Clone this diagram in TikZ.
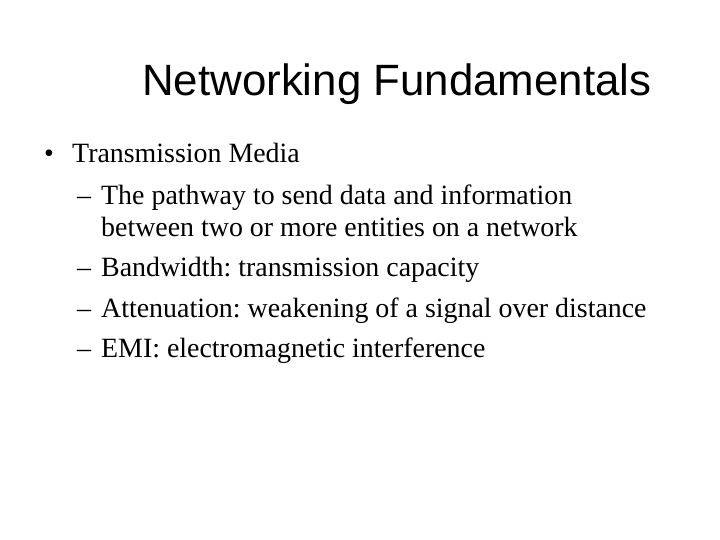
\documentclass[tikz,border=0pt]{standalone}
\usepackage{fontspec}
\setmainfont{Liberation Serif}
\newfontfamily\titlefont{Liberation Sans}
\frenchspacing

\tikzset{
  slidetitle/.style={anchor=base west, inner sep=0pt, font=\titlefont\fontsize{44}{52}\selectfont},
  levelone/.style={anchor=base west, inner sep=0pt, font=\fontsize{28}{34}\selectfont},
  leveltwo/.style={anchor=base west, inner sep=0pt, font=\fontsize{28}{34}\selectfont}
}

\begin{document}
\begin{tikzpicture}[x=1bp,y=-1bp]
% Fix the slide size
  \useasboundingbox[fill=white] (0,0) rectangle (720,540);

% Draw the title
  \node[slidetitle] (title) at (142,96) {Networking Fundamentals};

% Draw the first level bullet
  \node[levelone] (bullet) at (44,163) {\textbullet};
  \node[levelone] (media) at (72,163) {Transmission Media};

% Draw the second level items
  \node[leveltwo] (dashA) at (77,205) {--};
  \node[leveltwo] (pathway) at (101,205) {The pathway to send data and information};
  \node[leveltwo] (between) at (101,237) {between two or more entities on a network};

  \node[leveltwo] (dashB) at (77,277) {--};
  \node[leveltwo] (bandwidth) at (101,277) {Bandwidth: transmission capacity};

  \node[leveltwo] (dashC) at (77,317) {--};
  \node[leveltwo] (attenuation) at (101,317) {Attenuation: weakening of a signal over distance};

  \node[leveltwo] (dashD) at (77,357) {--};
  \node[leveltwo] (emi) at (101,357) {EMI: electromagnetic interference};
\end{tikzpicture}
\end{document}
